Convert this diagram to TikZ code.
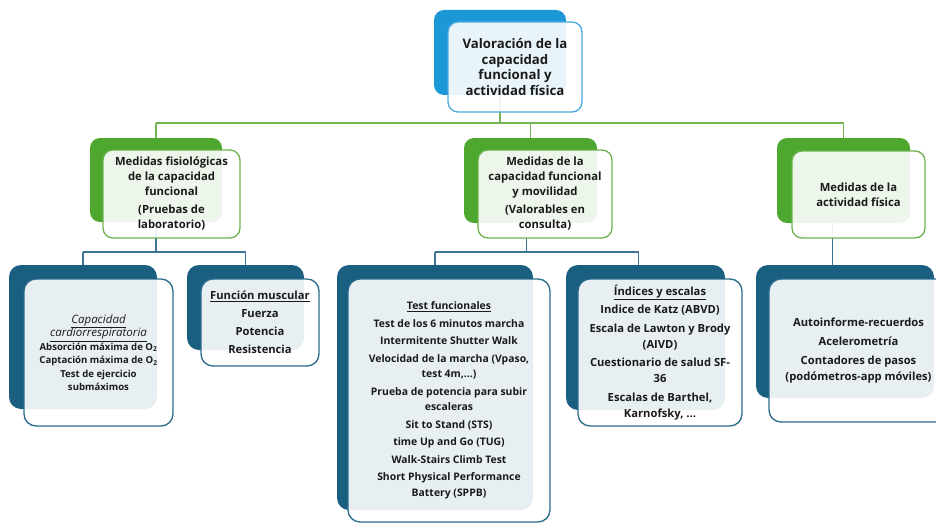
\documentclass[tikz,border=0pt]{standalone}
\usepackage{fontspec}
\setmainfont{Open Sans}
\usetikzlibrary{backgrounds}
\definecolor{topb}{HTML}{1B98D5}
\definecolor{topl}{HTML}{4BA9DC}
\definecolor{gb}{HTML}{4EA72E}
\definecolor{gl}{HTML}{6BB24F}
\definecolor{gcon}{HTML}{72B553}
\definecolor{db}{HTML}{1A5E80}
\definecolor{dl}{HTML}{2A6B8C}
\definecolor{bcon}{HTML}{3C7496}
\definecolor{txt}{HTML}{1A1A1A}
\begin{document}
\begin{tikzpicture}[x=1pt,y=-1pt,
  every node/.style={inner sep=0pt, outer sep=0pt},
  back/.style={fill=#1, rounded corners=10pt},
  front/.style={draw=#1, line width=1.3pt, fill=white, fill opacity=0.9, text opacity=1, rounded corners=10pt, align=center, text=txt},
  fa/.style={font=\fontsize{13.2}{15.5}\selectfont\bfseries},
  fb/.style={font=\fontsize{11.3}{15}\selectfont\bfseries},
  fc/.style={font=\fontsize{10.4}{15.5}\selectfont\bfseries},
  fe/.style={font=\fontsize{11.2}{16}\selectfont\bfseries},
  fd/.style={font=\fontsize{9.6}{13.5}\selectfont\bfseries},
  gline/.style={draw=gcon, line width=1.3pt},
  bline/.style={draw=bcon, line width=1.3pt}]
\useasboundingbox (0,0) rectangle (936,524);
\clip (0,0) rectangle (936,524);
% top
\node[back=topb, minimum width=132pt, minimum height=85pt] (topback) at (500,52.5) {};
\node[front=topl, fa, minimum width=134pt, minimum height=90pt] (top) at (515,67) {Valoración de la\\capacidad\\funcional y\\actividad física};
% level 2
\node[back=gb, minimum width=132pt, minimum height=84pt] (l2lback) at (156,180) {};
\node[front=gl, fb, minimum width=137pt, minimum height=88pt] (l2l) at (171.5,194) {Medidas fisiológicas\\de la capacidad\\funcional\\[3pt](Pruebas de\\laboratorio)};
\node[back=gb, minimum width=133pt, minimum height=85pt] (l2mback) at (530.5,180.5) {};
\node[front=gl, fb, minimum width=134pt, minimum height=88pt] (l2m) at (545,194) {Medidas de la\\capacidad funcional\\y movilidad\\[3pt](Valorables en\\consulta)};
\node[back=gb, minimum width=133pt, minimum height=85pt] (l2rback) at (843.5,180.5) {};
\node[front=gl, fb, minimum width=133pt, minimum height=87pt] (l2r) at (858.5,194.5) {Medidas de la\\actividad física};
% level 3
\node[back=db, minimum width=148pt, minimum height=144pt, rounded corners=12pt] (capback) at (83,337) {};
\node[front=dl, fd, minimum width=149pt, minimum height=147pt, rounded corners=12pt] (cap) at (98.5,352.5) {{\fontsize{11.5}{14}\selectfont\mdseries\itshape\underline{Capacidad}}\\{\fontsize{11.5}{14}\selectfont\mdseries\itshape\underline{cardiorrespiratoria}}\\Absorción máxima de O\textsubscript{2}\\Captación máxima de O\textsubscript{2}\\Test de ejercicio\\submáximos};
\node[back=db, minimum width=117pt, minimum height=85pt, rounded corners=12pt] (funback) at (245.5,307.5) {};
\node[front=dl, fe, minimum width=118pt, minimum height=87pt, rounded corners=12pt] (fun) at (260,322.5) {\underline{Función muscular}\\[2pt]Fuerza\\[2pt]Potencia\\[2pt]Resistencia};
\node[back=db, minimum width=196pt, minimum height=245pt, rounded corners=12pt] (testback) at (435,387.5) {};
\node[front=dl, fc, minimum width=202pt, minimum height=243pt, rounded corners=12pt] (test) at (449,400.5) {\underline{Test funcionales}\\[2pt]Test de los 6 minutos marcha\\[2pt]Intermitente Shutter Walk\\[2pt]Velocidad de la marcha (Vpaso,\\test 4m,...)\\[2pt]Prueba de potencia para subir\\escaleras\\[2pt]Sit to Stand (STS)\\[2pt]time Up and Go (TUG)\\[2pt]Walk-Stairs Climb Test\\[2pt]Short Physical Performance\\Battery (SPPB)};
\node[back=db, minimum width=159pt, minimum height=145pt, rounded corners=12pt] (indback) at (645.5,337.5) {};
\node[front=dl, fe, minimum width=164pt, minimum height=147pt, rounded corners=12pt] (ind) at (660,352.5) {\underline{Índices y escalas}\\[2.5pt]Indice de Katz (ABVD)\\[2.5pt]Escala de Lawton y Brody\\(AIVD)\\[2.5pt]Cuestionario de salud SF-\\36\\[2.5pt]Escalas de Barthel,\\Karnofsky, ...};
\node[back=db, minimum width=178pt, minimum height=133pt, rounded corners=12pt] (actback) at (845,331.5) {};
\node[front=dl, fe, minimum width=179pt, minimum height=143pt, rounded corners=12pt] (act) at (858.5,350.5) {Autoinforme-recuerdos\\[3pt]Acelerometría\\[3pt]Contadores de pasos\\(podómetros-app móviles)};
% connectors
\coordinate (gy) at (0,123);
\coordinate (by) at (0,252);
\begin{pgfonlayer}{background}
\draw[gline] (topback.center) -- (topback.center |- gy);
\draw[gline] (l2lback.center |- gy) -- (l2rback.center |- gy);
\draw[gline] (l2lback.center |- gy) -- (l2lback.center);
\draw[gline] (l2mback.center |- gy) -- (l2mback.center);
\draw[gline] (l2rback.center |- gy) -- (l2rback.center);
\draw[bline] (l2lback.center) -- (l2lback.center |- by);
\draw[bline] (capback.center |- by) -- (funback.center |- by);
\draw[bline] (capback.center |- by) -- (capback.center);
\draw[bline] (funback.center |- by) -- (funback.center);
\draw[bline] ([xshift=-4pt]l2mback.center) -- ([xshift=-4pt]l2mback.center |- by);
\draw[bline] (testback.center |- by) -- ([xshift=-7pt]indback.center |- by);
\draw[bline] (testback.center |- by) -- (testback.center);
\draw[bline] ([xshift=-7pt]indback.center |- by) -- ([xshift=-7pt]indback.center);
\draw[bline] ([xshift=-11pt]l2rback.center) -- ([xshift=-11pt]l2rback.center |- actback.center);
\end{pgfonlayer}
\end{tikzpicture}
\end{document}
